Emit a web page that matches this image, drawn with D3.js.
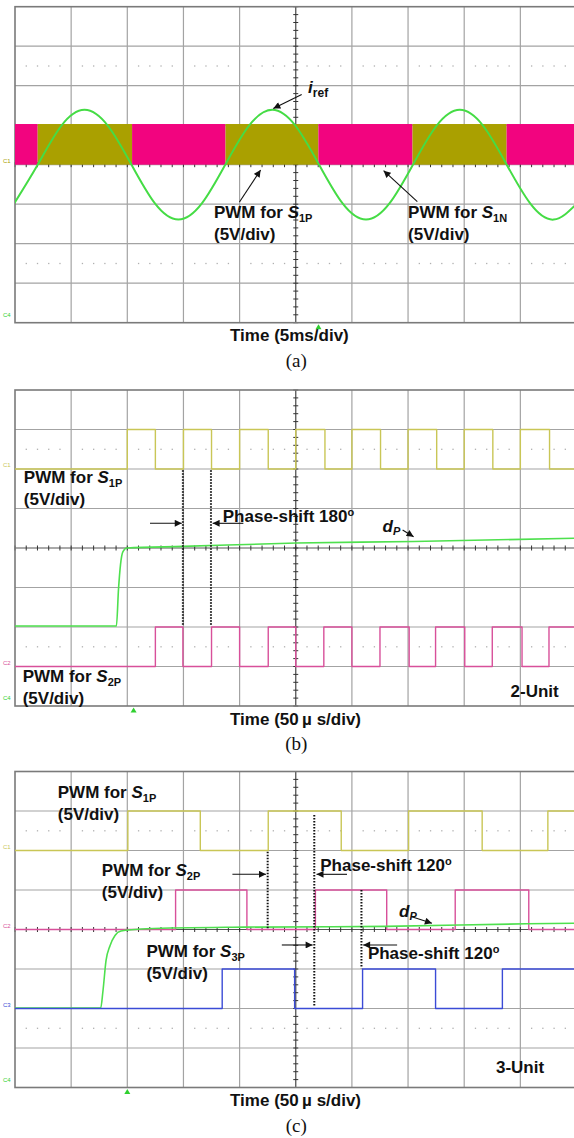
<!DOCTYPE html>
<html>
<head>
<meta charset="utf-8">
<script src="https://cdn.jsdelivr.net/npm/d3@7"></script>
<style>
body{margin:0;background:#fff;}
svg{display:block;}
</style>
</head>
<body>
<svg id="fig"></svg>
<script>
// ---------- CONSTANTS ---------------------------------------------------
const W = 574, H = 1138;
const X0 = 15, DIV = 56.15, DY = 39.5;          // one scope division in px
const TOPS = [6.7, 390, 771.5];                  // top edge of each screen
const SANS = '"Liberation Sans",Arial,sans-serif', SERIF = '"Liberation Serif","Times New Roman",serif';
const COL = {grid:'#a3a3a3', frame:'#7a7a7a', axis:'#444',
             olive:'#aaa000', mag:'#f2047f', sine:'#45dc45',
             yel:'#c9c656', pink:'#d8509a', blue:'#3b4bd6', dp:'#4ee04e'};

// ---------- DATA (divisions: time 0..10, level -4..4 around centre) ------
// (a) 60 Hz reference current, sampled every 1/8 period
const A_SINE_T = [-0.014,0.404,0.822,1.239,1.657,2.075,2.492,2.910,3.328,3.745,4.163,4.581,
                  4.998,5.416,5.834,6.251,6.669,7.087,7.504,7.922,8.340,8.757,9.175,9.593,10.010];
const A_SINE_V = [-0.98,0,0.98,1.39,0.98,0,-0.98,-1.39,-0.98,0,0.98,1.39,
                  0.98,0,-0.98,-1.39,-0.98,0,0.98,1.39,0.98,0,-0.98,-1.39,-0.98];
// (a) switching bands: which switch is modulating in each interval
const A_BAND_EDGES = [0,0.404,2.085,3.749,5.403,7.079,8.755,10.2];
const A_BAND_SW    = ['N','P','N','P','N','P','N'];
const A_BAND_HIGH  = 1.03;

// (b) 2-unit
const B_S1P_T = [0,2,2.5,3,3.5,4,4.51,5,5.52,6,6.51,7,7.51,8,8.51,9,9.52,10.2];
const B_S1P_V = [2,3,2,3,2,3,2,3,2,3,2,3,2,3,2,3,2,2];
const B_S2P_T = [0,2.5,2.99,3.5,4.0,4.51,5.0,5.5,6.0,6.5,7.02,7.49,8.01,8.5,9.03,9.51,10.2];
const B_S2P_V = [-3,-2,-3,-2,-3,-2,-3,-2,-3,-2,-3,-2,-3,-2,-3,-2,-2];
const B_DP_T  = [0,1.806,1.843,1.879,1.923,1.995,2.99,5.01,7.1,10.1];
const B_DP_V  = [-1.975,-1.975,-1.05,-0.42,-0.09,0,0.04,0.126,0.166,0.25];

// (c) 3-unit
const C_S1P_T = [0,2.01,3.30,4.51,5.81,7.01,8.32,9.49,10.2];
const C_S1P_V = [2,3,2,3,2,3,2,3,3];
const C_S2P_T = [0,2.86,4.13,5.35,6.62,7.84,9.15,10.2];
const C_S2P_V = [0,1,0,1,0,1,0,0];
const C_S3P_T = [0,3.69,4.98,6.19,7.49,8.68,10.2];
const C_S3P_V = [-2,-1,-2,-1,-2,-1,-1];
const C_DP_T  = [0,1.526,1.567,1.621,1.692,1.781,1.888,2.137,2.34,4.096,6.607,9.118,10.1];
const C_DP_V  = [-1.99,-1.99,-1.55,-0.79,-0.41,-0.15,-0.04,0,0.02,0.06,0.08,0.145,0.16];

const TRIGGER = [5.405, 2.112, 2.0];
const CAPTIONS = ['(a)','(b)','(c)'];
const TIME_LABELS = ['Time (5ms/div)','Time (50\u2009\u00b5 s/div)','Time (50\u2009\u00b5 s/div)'];

// ---------- SETUP -------------------------------------------------------
const svg = d3.select('#fig').attr('width',W).attr('height',H);
svg.append('rect').attr('width',W).attr('height',H).attr('fill','#fff');

const defs = svg.append('defs');
defs.append('marker').attr('id','ah').attr('viewBox','0 0 10 10')
  .attr('refX',10).attr('refY',5).attr('markerWidth',8).attr('markerHeight',7)
  .attr('markerUnits','userSpaceOnUse').attr('orient','auto')
  .append('path').attr('d','M0,0 L10,5 L0,10 z').attr('fill','#111');

const panels = TOPS.map((top,i)=>{
  const x = d3.scaleLinear().domain([0,10]).range([X0, X0+10*DIV]);
  const y = d3.scaleLinear().domain([-4,4]).range([top+8*DY, top]);
  defs.append('clipPath').attr('id','clip'+i).append('rect')
    .attr('x',X0).attr('y',top).attr('width',W-X0).attr('height',8*DY);
  const g = svg.append('g');
  drawGrid(g,x,y,i);
  const plot = g.append('g').attr('clip-path',`url(#clip${i})`);
  return {g,plot,x,y};
});

// ---------- GRID --------------------------------------------------------
function drawGrid(g,x,y,i){
  const gg = g.append('g');
  gg.selectAll('line.v').data(d3.range(1,10).filter(d=>d!==5)).join('line')
    .attr('x1',d=>x(d)).attr('x2',d=>x(d)).attr('y1',y(4)).attr('y2',y(-4))
    .attr('stroke',COL.grid).attr('stroke-width',1.2);
  gg.selectAll('line.h').data([-3,-2,-1,1,2,3]).join('line')
    .attr('x1',x(0)).attr('x2',x(10)).attr('y1',d=>y(d)).attr('y2',d=>y(d))
    .attr('stroke',COL.grid).attr('stroke-width',1.2);
  // dotted rows at +-2.5 div
  const dots = d3.range(0,50).map(k=>k/5).filter(d=>d%1!==0);
  [2.5,-2.5].forEach(lv=>{
    gg.selectAll(null).data(dots).join('rect')
      .attr('x',d=>x(d)-0.6).attr('y',y(lv)-0.6).attr('width',1.3).attr('height',1.3)
      .attr('fill','#b0b0b0');
  });
  // centre axes with minor ticks
  gg.append('line').attr('x1',x(0)).attr('x2',x(10)).attr('y1',y(0)).attr('y2',y(0))
    .attr('stroke',i===0?COL.grid:'#555').attr('stroke-width',1.2);
  gg.append('line').attr('x1',x(5)).attr('x2',x(5)).attr('y1',y(4)).attr('y2',y(-4))
    .attr('stroke','#555').attr('stroke-width',1.3);
  gg.selectAll(null).data(d3.range(-20,21).map(k=>k/5)).join('line')
    .attr('x1',x(5)-2.5).attr('x2',x(5)+2.5).attr('y1',d=>y(d)).attr('y2',d=>y(d))
    .attr('stroke','#333').attr('stroke-width',1);
  gg.selectAll(null).data(d3.range(0,51).map(k=>k/5)).join('line')
    .attr('x1',d=>x(d)).attr('x2',d=>x(d)).attr('y1',y(0)-2.5).attr('y2',y(0)+2.5)
    .attr('stroke','#333').attr('stroke-width',1);
  // frame
  gg.append('rect').attr('x',x(0)).attr('y',y(4)).attr('width',x(10)-x(0)).attr('height',y(-4)-y(4))
    .attr('fill','none').attr('stroke',COL.frame).attr('stroke-width',1.6);
}

// ---------- HELPERS -----------------------------------------------------
const step = (p,T,V)=>d3.line().curve(d3.curveStepAfter).x((d,k)=>p.x(T[k])).y(d=>p.y(d))(V);
const smooth = (p,T,V,c)=>d3.line().curve(c).x((d,k)=>p.x(T[k])).y(d=>p.y(d))(V);

function trace(p,d,color,w){
  p.plot.append('path').attr('d',d).attr('fill','none').attr('stroke',color)
    .attr('stroke-width',w).attr('stroke-linejoin','round');
}
function txt(p,xd,yd,size){
  return p.g.append('text').attr('x',p.x(xd)).attr('y',p.y(yd))
    .style('font-family',SANS).attr('font-size',size||17).attr('font-weight','bold').attr('fill','#111');
}
function pwmLabel(p,xd,yd,sub){
  const t = txt(p,xd,yd);
  t.append('tspan').text('PWM for ');
  t.append('tspan').attr('font-style','italic').text('S');
  t.append('tspan').attr('font-size',11).attr('dy',4).text(sub);
  txt(p,xd,yd-0.56).text('(5V/div)');
}
function arrow(p,x1,y1,x2,y2){
  p.g.append('line').attr('x1',p.x(x1)).attr('y1',p.y(y1)).attr('x2',p.x(x2)).attr('y2',p.y(y2))
    .attr('stroke','#111').attr('stroke-width',1.1).attr('marker-end','url(#ah)');
}
function dotted(p,t,y1,y2){
  p.g.append('line').attr('x1',p.x(t)).attr('x2',p.x(t)).attr('y1',p.y(y1)).attr('y2',p.y(y2))
    .attr('stroke','#111').attr('stroke-width',2).attr('stroke-dasharray','1.5,1.5');
}
function phaseLabel(p,xd,yd,deg){
  const t = txt(p,xd,yd);
  t.append('tspan').text('Phase-shift '+deg);
  t.append('tspan').attr('font-size',11).attr('dy',-6).text('o');
}
function dpLabel(p,xd,yd){
  const t = txt(p,xd,yd);
  t.append('tspan').attr('font-style','italic').text('d');
  t.append('tspan').attr('font-style','italic').attr('font-size',11).attr('dy',3).text('P');
}
function chMark(p,yd,name,color){
  p.g.append('text').attr('x',3).attr('y',p.y(yd)+2).style('font-family',SANS)
    .attr('font-size',6).attr('fill',color).text(name);
}
function footer(p,i){
  txt(p,3.83,-4.47).text(TIME_LABELS[i]);
  p.g.append('text').attr('x',p.x(5.01)).attr('y',p.y(-5.12)).attr('text-anchor','middle')
    .style('font-family',SERIF).attr('font-size',19)
    .attr('fill','#111').text(CAPTIONS[i]);
  p.g.append('path').attr('transform',`translate(${p.x(TRIGGER[i])},${p.y(-4)+1.5})`)
    .attr('d','M0,0 L3,5 L-3,5 z').attr('fill','#2fd02f');
}

// ---------- PANEL (a) ---------------------------------------------------
{
  const p = panels[0];
  p.plot.selectAll('rect.band').data(A_BAND_SW).join('rect')
    .attr('x',(d,k)=>p.x(A_BAND_EDGES[k])).attr('width',(d,k)=>p.x(A_BAND_EDGES[k+1])-p.x(A_BAND_EDGES[k]))
    .attr('y',p.y(A_BAND_HIGH)).attr('height',p.y(0)-p.y(A_BAND_HIGH))
    .attr('fill',d=>d==='P'?COL.olive:COL.mag);
  trace(p,smooth(p,A_SINE_T,A_SINE_V,d3.curveNatural),COL.sine,2);
  chMark(p,0.1,'C1',COL.olive);
  chMark(p,-3.8,'C4','#2fd02f');
  const ir = txt(p,5.22,1.815);
  ir.append('tspan').attr('font-style','italic').text('i');
  ir.append('tspan').attr('font-size',12).attr('dy',4).text('ref');
  arrow(p,5.106,1.78,4.6,1.42);
  pwmLabel(p,3.544,-1.357,'1P');
  pwmLabel(p,7.001,-1.357,'1N');
  arrow(p,3.998,-0.944,4.374,-0.134);
  arrow(p,7.165,-0.937,6.565,-0.152);
  footer(p,0);
}

// ---------- PANEL (b) ---------------------------------------------------
{
  const p = panels[1];
  trace(p,step(p,B_S1P_T,B_S1P_V),COL.yel,1.4);
  trace(p,step(p,B_S2P_T,B_S2P_V),COL.pink,1.4);
  trace(p,smooth(p,B_DP_T,B_DP_V,d3.curveMonotoneX),COL.dp,1.6);
  chMark(p,2.1,'C1',COL.yel);
  chMark(p,-2.9,'C2',COL.pink);
  chMark(p,-3.8,'C4','#2fd02f');
  pwmLabel(p,0.157,1.638,'1P');
  pwmLabel(p,0.137,-3.385,'2P');
  dotted(p,2.99,1.97,-1.95);
  dotted(p,3.49,1.97,-1.95);
  arrow(p,2.404,0.625,2.97,0.625);
  arrow(p,4.067,0.625,3.52,0.625);
  phaseLabel(p,3.70,0.658,'180');
  dpLabel(p,6.545,0.413);
  arrow(p,6.903,0.456,7.099,0.286);
  txt(p,8.826,-3.765).text('2-Unit');
  footer(p,1);
}

// ---------- PANEL (c) ---------------------------------------------------
{
  const p = panels[2];
  trace(p,step(p,C_S1P_T,C_S1P_V),COL.yel,1.4);
  trace(p,step(p,C_S2P_T,C_S2P_V),COL.pink,1.4);
  trace(p,smooth(p,C_DP_T,C_DP_V,d3.curveMonotoneX),COL.dp,1.6);
  trace(p,step(p,C_S3P_T,C_S3P_V),COL.blue,1.4);
  chMark(p,2.1,'C1',COL.yel);
  chMark(p,0.1,'C2',COL.pink);
  chMark(p,-1.9,'C3',COL.blue);
  chMark(p,-3.8,'C4','#2fd02f');
  pwmLabel(p,0.762,3.32,'1P');
  pwmLabel(p,1.546,1.362,'2P');
  pwmLabel(p,2.34,-0.689,'3P');
  dotted(p,4.5,1.97,0);
  dotted(p,5.33,2.9,-1.95);
  dotted(p,6.17,1.0,-0.98);
  arrow(p,3.872,1.397,4.47,1.397);
  arrow(p,5.913,1.397,5.37,1.397);
  arrow(p,4.752,-0.392,5.3,-0.392);
  arrow(p,6.805,-0.392,6.2,-0.392);
  phaseLabel(p,5.437,1.481,'120');
  phaseLabel(p,6.285,-0.754,'120');
  dpLabel(p,6.839,0.324);
  arrow(p,7.067,0.324,7.425,0.157);
  txt(p,8.566,-3.64).text('3-Unit');
  footer(p,2);
}
</script>
</body>
</html>
